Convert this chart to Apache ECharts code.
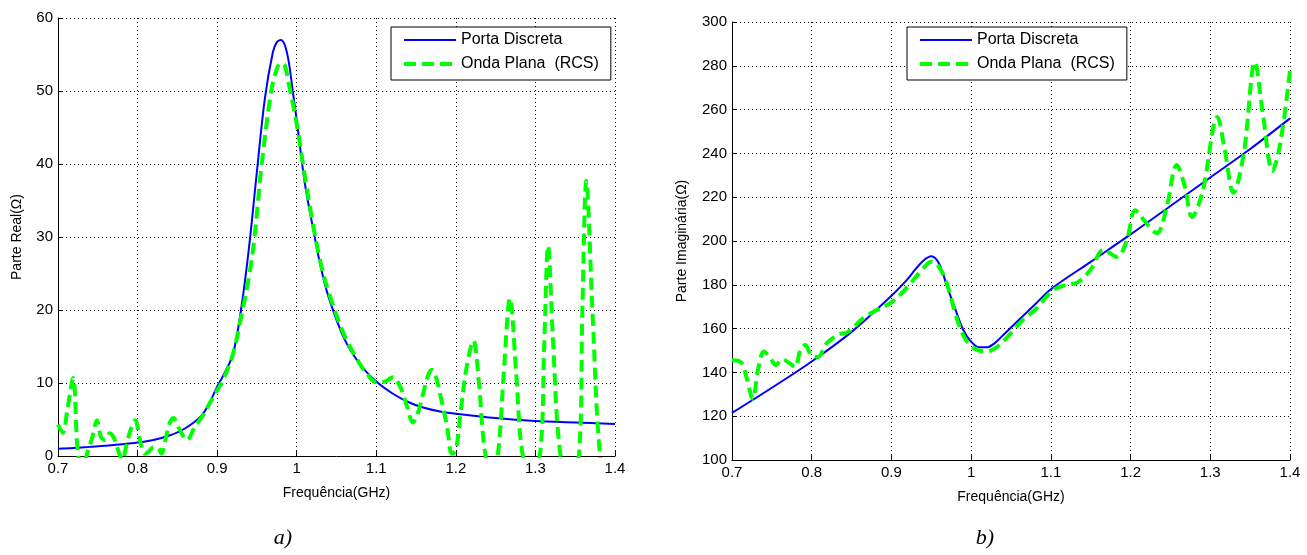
<!DOCTYPE html>
<html>
<head>
<meta charset="utf-8">
<script src="https://cdn.jsdelivr.net/npm/echarts@6/dist/echarts.min.js"></script>
<style>
  html, body { margin: 0; padding: 0; background: #fff; }
  #chart { width: 1307px; height: 555px; }
</style>
</head>
<body>
<div id="chart"></div>
<script>
// a) parte real
var realFreqDiscreta = [0.70,0.72,0.74,0.76,0.78,0.80,0.82,0.84,0.86,0.88,0.89,0.90,0.91,0.92,0.93,0.94,0.95,0.96,0.97,0.975,0.98,0.985,0.99,0.995,1.00,1.01,1.02,1.03,1.04,1.06,1.08,1.10,1.12,1.14,1.16,1.18,1.20,1.25,1.30,1.35,1.40];
var realDiscreta = [1.0,1.1,1.25,1.4,1.6,1.85,2.2,2.8,3.8,5.5,7.2,9.5,11.5,14,20,28.5,39,49,55.3,56.7,57,56.3,54,50,46,37.5,31.5,26,21.8,16,12.5,10.2,8.6,7.4,6.6,6.1,5.8,5.2,4.8,4.6,4.4];

var realFreqOnda = [0.700,0.706,0.712,0.719,0.725,0.731,0.737,0.743,0.749,0.754,0.759,0.765,0.771,0.777,0.781,0.786,0.791,0.797,0.803,0.809,0.814,0.820,0.826,0.830,0.835,0.840,0.845,0.852,0.862,0.872,0.881,0.891,0.900,0.907,0.92,0.93,0.94,0.947,0.956,0.968,0.975,0.98,0.985,0.99,1.00,1.01,1.02,1.03,1.04,1.06,1.08,1.088,1.10,1.111,1.121,1.13,1.138,1.146,1.152,1.159,1.165,1.17,1.175,1.18,1.189,1.195,1.2,1.206,1.214,1.222,1.229,1.236,1.245,1.253,1.26,1.268,1.276,1.283,1.294,1.306,1.311,1.316,1.322,1.331,1.343,1.355,1.359,1.364,1.372,1.381,1.39,1.4];
var realOnda = [4.3,3.2,6.5,10.7,0.4,-1.5,0.5,2.5,4.9,2.6,2.2,3.1,2.3,0.3,-0.5,1.5,3.5,4.9,2.2,0.3,0.6,1.2,1.1,0.3,2.2,4.4,5.2,3.8,2.2,4.0,5.4,7.3,9.0,10.3,14,19,24.5,30,40,50,53,53.8,53.5,51,45.5,38.5,32,26.5,22.5,16.5,12.5,11.3,10.1,10.2,10.8,9.5,7,4.6,5.8,8.6,11,11.8,10.8,8.6,4,0.3,0.8,6,12.5,15.8,10,1,-3,0.4,11,21.6,11,0.8,-3,0.5,15,28.8,16,0.5,-3,0.5,20,37.7,19,0.3,-3,-2];

// b) parte imaginaria
var imagFreqDiscreta = [0.70,0.75,0.80,0.85,0.90,0.92,0.93,0.94,0.95,0.96,0.97,0.98,0.99,1.00,1.01,1.02,1.03,1.04,1.06,1.08,1.10,1.15,1.20,1.25,1.30,1.35,1.40];
var imagDiscreta = [121.5,133,145,158.5,175,182.5,187,191,193,189.5,179,169,159.5,154,151.5,151.5,153.5,157,164,171,178,190.5,203,216,229,242,256];

var imagFreqOnda = [0.700,0.711,0.718,0.726,0.733,0.740,0.748,0.755,0.763,0.771,0.779,0.786,0.792,0.799,0.808,0.817,0.824,0.835,0.843,0.852,0.862,0.879,0.90,0.92,0.94,0.95,0.96,0.97,0.98,0.99,1.00,1.01,1.02,1.03,1.04,1.065,1.08,1.103,1.12,1.133,1.15,1.166,1.183,1.195,1.206,1.22,1.233,1.245,1.258,1.268,1.277,1.29,1.309,1.318,1.329,1.342,1.356,1.366,1.378,1.388,1.4];
var imagOnda = [145.5,144.7,138,128,142,149.5,146.5,143.4,146,144.5,142.5,150.5,152.5,148,147,152.5,155,157.5,158,160.3,164,168,172,179,187.5,190.5,188,180,167,157,152,150,149.5,151,154,164,168.5,177.6,180,181,187,196,192.7,200,214,208,203.6,215,234.7,225,211,222,256.6,242,222,240,281.7,258,232,245,278];

var xTicks = {min: 0.7, max: 1.4, interval: 0.1};
var nomeDiscreta = 'Porta Discreta';
var nomeOnda = 'Onda Plana  (RCS)';

var myChart = echarts.init(document.getElementById('chart'));

var pares = function (xs, ys) {
    var res = [];
    for (var i = 0; i < xs.length; i++) {
        res.push([xs[i], ys[i]]);
    }
    return res;
};

var fonte = 'Liberation Sans, Arial, sans-serif';

var eixoX = function (idx) {
    return {
        type: 'value',
        gridIndex: idx,
        min: xTicks.min,
        max: xTicks.max,
        interval: xTicks.interval,
        name: 'Frequência(GHz)',
        nameLocation: 'middle',
        nameGap: 30,
        nameTextStyle: {color: '#000', fontSize: 14, fontFamily: fonte},
        axisLine: {show: true, onZero: false, lineStyle: {color: '#000', width: 1}},
        axisTick: {show: true, inside: true, length: 5, lineStyle: {color: '#000'}},
        axisLabel: {
            color: '#000', fontSize: 15, fontFamily: fonte, margin: 5,
            formatter: function (v) { return String(+v.toFixed(1)); }
        },
        splitLine: {show: true, lineStyle: {color: '#000', type: [1, 3], width: 1}}
    };
};

var eixoY = function (idx, nome, min, max, interval, gap) {
    return {
        type: 'value',
        gridIndex: idx,
        min: min,
        max: max,
        interval: interval,
        name: nome,
        nameLocation: 'middle',
        nameGap: gap,
        nameTextStyle: {color: '#000', fontSize: 14, fontFamily: fonte},
        axisLine: {show: true, lineStyle: {color: '#000', width: 1}},
        axisTick: {show: true, inside: true, length: 5, lineStyle: {color: '#000'}},
        axisLabel: {color: '#000', fontSize: 15, fontFamily: fonte, margin: 5},
        splitLine: {show: true, lineStyle: {color: '#000', type: [1, 3], width: 1}}
    };
};

var legenda = function (left) {
    return {
        orient: 'vertical',
        left: left,
        top: 27,
        data: [
            {name: nomeDiscreta, lineStyle: {width: 2}},
            {name: nomeOnda, lineStyle: {width: 4}}
        ],
        itemWidth: 52,
        itemHeight: 14,
        itemGap: 8,
        padding: [5, 12, 8, 11],
        backgroundColor: '#fff',
        borderColor: '#000',
        borderWidth: 1,
        borderRadius: 0,
        selectedMode: false,
        // só a linha, sem o marcador redondo
        itemStyle: {color: 'transparent', borderColor: 'transparent', borderWidth: 0, opacity: 0},
        textStyle: {color: '#000', fontSize: 16, fontFamily: fonte}
    };
};

var serie = function (nome, idx, data, cor, largura, tipo) {
    return {
        name: nome,
        type: 'line',
        xAxisIndex: idx,
        yAxisIndex: idx,
        data: data,
        symbol: 'none',
        smooth: 0.35,
        clip: true,
        lineStyle: {color: cor, width: largura, type: tipo},
        itemStyle: {color: cor}
    };
};

var option = {
    animation: false,
    backgroundColor: '#fff',
    grid: [
        {left: 58, top: 18, width: 557, height: 438},
        {left: 732, top: 22, width: 558, height: 438}
    ],
    legend: [legenda(391), legenda(907)],
    xAxis: [eixoX(0), eixoX(1)],
    yAxis: [
        eixoY(0, 'Parte Real(Ω)', 0, 60, 10, 34),
        eixoY(1, 'Parte Imaginária(Ω)', 100, 300, 20, 43)
    ],
    series: [
        serie(nomeDiscreta, 0, pares(realFreqDiscreta, realDiscreta), '#0000ff', 2, 'solid'),
        serie(nomeOnda, 0, pares(realFreqOnda, realOnda), '#00ff00', 4, [12, 6]),
        serie(nomeDiscreta, 1, pares(imagFreqDiscreta, imagDiscreta), '#0000ff', 2, 'solid'),
        serie(nomeOnda, 1, pares(imagFreqOnda, imagOnda), '#00ff00', 4, [12, 6])
    ],
    graphic: [
        {type: 'text', x: 283, y: 538, style: {text: 'a)', font: 'italic 22px "Liberation Serif", serif', fill: '#000', textAlign: 'center', textVerticalAlign: 'middle'}},
        {type: 'text', x: 985, y: 538, style: {text: 'b)', font: 'italic 22px "Liberation Serif", serif', fill: '#000', textAlign: 'center', textVerticalAlign: 'middle'}}
    ]
};

myChart.setOption(option);
</script>
</body>
</html>
